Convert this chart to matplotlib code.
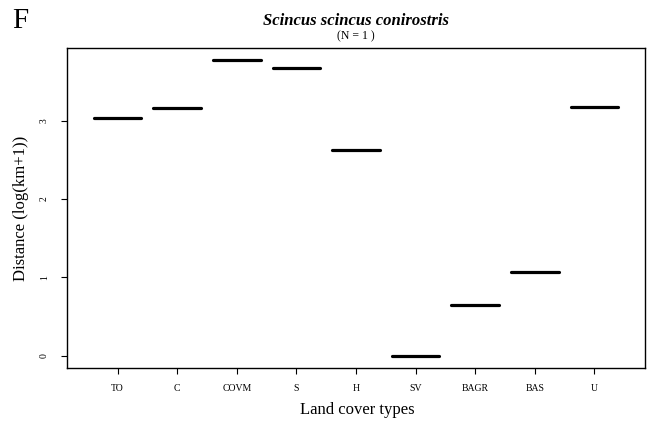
import matplotlib
matplotlib.use("Agg")
import matplotlib.pyplot as plt

categories = ["TO", "C", "COVM", "S", "H", "SV", "BAGR", "BAS", "U"]
values = [3.03, 3.16, 3.78, 3.68, 2.63, 0.0, 0.65, 1.07, 3.18]
yticks = [0, 1, 2, 3]

plt.rcParams['font.family'] = ['Liberation Serif', 'DejaVu Serif']

fig = plt.figure(figsize=(6.5, 4.21), dpi=100)
ax = fig.add_axes([67/650, 1-367.5/421, (645-67)/650, (367.5-48)/421])

pos = list(range(1, len(categories)+1))
ax.hlines(values, [p-0.4 for p in pos], [p+0.4 for p in pos],
          colors='black', linewidth=2.3, capstyle='round')

ax.set_xlim(0.15, 9.85)
ax.set_ylim(-0.153, 3.93)
ax.set_xticks(pos)
ax.set_xticklabels(categories, fontsize=7)
ax.set_yticks(yticks)
ax.set_yticklabels([str(t) for t in yticks], fontsize=7, rotation=90, va='center')
ax.tick_params(axis='both', direction='out', length=4, width=0.8)
ax.tick_params(axis='y', pad=9)
ax.tick_params(axis='x', pad=8)
for s in ax.spines.values():
    s.set_linewidth(1.0)
    s.set_color('black')

fig.text(357/650, 1-410/421, "Land cover types", ha='center', va='center', fontsize=12)
fig.text(21/650, 1-208/421, "Distance (log(km+1))", ha='center', va='center',
         fontsize=12, rotation=90)

fig.text(356/650, 1-21/421, "Scincus scincus conirostris", ha='center', va='center',
         fontsize=12, fontweight='bold', fontstyle='italic')
fig.text(356/650, 1-36/421, "(N = 1 )", ha='center', va='center', fontsize=8.5)
fig.text(20/650, 1-21/421, "F", ha='center', va='center', fontsize=21)

fig.savefig("out.png", dpi=100)
